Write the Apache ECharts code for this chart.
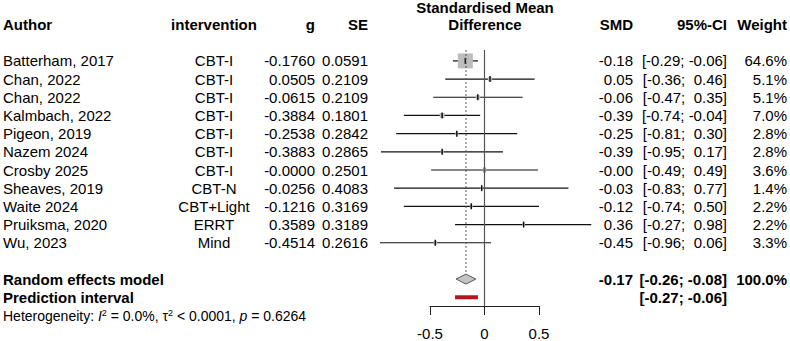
<!DOCTYPE html>
<html>
<head>
<meta charset="utf-8">
<script src="https://cdn.jsdelivr.net/npm/echarts@6/dist/echarts.min.js"></script>
<style>
  html, body { margin: 0; padding: 0; background: #fff; }
  #chart { width: 790px; height: 341px; }
</style>
</head>
<body>
<div id="chart"></div>
<script>
// study data
const authors = ['Batterham, 2017', 'Chan, 2022', 'Chan, 2022', 'Kalmbach, 2022', 'Pigeon, 2019',
  'Nazem 2024', 'Crosby 2025', 'Sheaves, 2019', 'Waite 2024', 'Pruiksma, 2020', 'Wu, 2023'];
const interventions = ['CBT-I', 'CBT-I', 'CBT-I', 'CBT-I', 'CBT-I', 'CBT-I', 'CBT-I',
  'CBT-N', 'CBT+Light', 'ERRT', 'Mind'];
const gValues = [-0.1760, 0.0505, -0.0615, -0.3884, -0.2538, -0.3883, -0.00004, -0.0256, -0.1216, 0.3589, -0.4514];
const seValues = [0.0591, 0.2109, 0.2109, 0.1801, 0.2842, 0.2865, 0.2501, 0.4083, 0.3169, 0.3189, 0.2616];
const ciLower = [-0.29, -0.36, -0.47, -0.74, -0.81, -0.95, -0.49, -0.83, -0.74, -0.27, -0.96];
const ciUpper = [-0.06, 0.46, 0.35, -0.04, 0.30, 0.17, 0.49, 0.77, 0.50, 0.98, 0.06];
const weights = [64.6, 5.1, 5.1, 7.0, 2.8, 2.8, 3.6, 1.4, 2.2, 2.2, 3.3];

// pooled result
const pooled = { est: -0.17, lo: -0.26, hi: -0.08, weight: 100.0 };
const predInterval = { lo: -0.27, hi: -0.06 };
const heterogeneity = { i2: '0.0%', tau2: '< 0.0001', p: '0.6264' };

const xTicks = [-0.5, 0, 0.5];

// layout
const FONT = '"Liberation Sans", Arial, sans-serif';
const FS = 15;
const TXT = '#000';
const ROW_TOP = -0.6;     // top of reference lines (in row units)
const ROW_POOLED = 12;
const ROW_PRED = 13;
const ROW_HET = 14.05;
const ROW_HEAD = -2;
const ROW_TITLE = -2.95;

const col = {
  author: 3, interv: 214, g: 315, se: 368, plot: 485, smd: 633, ci: 727, weight: 787
};

function f2(v) { return v.toFixed(2); }
function ciText(lo, hi) {
  return '[' + f2(lo) + '; ' + (hi >= 0 ? ' ' : '') + f2(hi) + ']';
}

function txt(x, y, text, align, bold, size) {
  return {
    type: 'text', x: x, y: y, silent: true,
    style: {
      text: text, fill: TXT, fontFamily: FONT, fontSize: size || FS,
      fontWeight: bold ? 'bold' : 'normal', align: align, verticalAlign: 'middle'
    }
  };
}

const chart = echarts.init(document.getElementById('chart'), null, { renderer: 'svg' });

const maxW = Math.max.apply(null, weights);

chart.setOption({
  animation: false,
  backgroundColor: '#fff',
  grid: { left: 430, right: 251, top: 50, bottom: 35 },
  xAxis: {
    type: 'value', min: -0.5, max: 0.5, interval: 0.5,
    splitLine: { show: false },
    axisLine: { show: true, onZero: false, lineStyle: { color: '#222', width: 1 } },
    axisTick: { show: true, length: 9, lineStyle: { color: '#222', width: 1 } },
    axisLabel: {
      color: TXT, fontFamily: FONT, fontSize: FS, margin: 20,
      formatter: function (v) { return xTicks.indexOf(v) >= 0 ? String(v) : ''; }
    }
  },
  yAxis: { type: 'value', min: ROW_TOP, max: 13.48, inverse: true, show: false },
  series: [
    {
      // confidence intervals + weight squares
      type: 'custom', name: 'studies',
      data: gValues.map((g, i) => [g, i, ciLower[i], ciUpper[i], weights[i]]),
      renderItem: function (params, api) {
        const p = api.coord([api.value(0), api.value(1)]);
        const a = api.coord([api.value(2), api.value(1)]);
        const b = api.coord([api.value(3), api.value(1)]);
        const s = 15 * Math.sqrt(api.value(4) / maxW);
        return {
          type: 'group',
          children: [
            { type: 'line', shape: { x1: a[0], y1: a[1], x2: b[0], y2: b[1] },
              style: { stroke: '#111', lineWidth: 1.2 } },
            { type: 'rect', shape: { x: p[0] - s / 2, y: p[1] - s / 2, width: s, height: s },
              style: { fill: '#bdbdbd' } },
            { type: 'line', shape: { x1: p[0], y1: p[1] - 3, x2: p[0], y2: p[1] + 3 },
              style: { stroke: '#111', lineWidth: 1.5 } }
          ]
        };
      },
      markLine: {
        silent: true, symbol: ['none', 'none'], label: { show: false },
        lineStyle: { color: '#555', type: 'solid', width: 1.2 },
        data: [{ xAxis: 0 }]
      }
    },
    {
      // pooled diamond + dotted line
      type: 'custom', name: 'pooled',
      data: [[pooled.est, ROW_POOLED, pooled.lo, pooled.hi]],
      renderItem: function (params, api) {
        const c = api.coord([api.value(0), api.value(1)]);
        const l = api.coord([api.value(2), api.value(1)]);
        const r = api.coord([api.value(3), api.value(1)]);
        const top = api.coord([api.value(0), ROW_TOP]);
        const h = 5;
        return {
          type: 'group',
          children: [
            { type: 'line', shape: { x1: c[0], y1: top[1], x2: c[0], y2: c[1] - h },
              style: { stroke: '#555', lineWidth: 1, lineDash: [2, 2] } },
            { type: 'polygon',
              shape: { points: [[l[0], l[1]], [c[0], c[1] - h], [r[0], r[1]], [c[0], c[1] + h]] },
              style: { fill: '#c4c4c4', stroke: '#555', lineWidth: 1 } }
          ]
        };
      }
    },
    {
      // prediction interval
      type: 'custom', name: 'prediction',
      data: [[predInterval.lo, predInterval.hi, ROW_PRED]],
      renderItem: function (params, api) {
        const a = api.coord([api.value(0), api.value(2)]);
        const b = api.coord([api.value(1), api.value(2)]);
        return { type: 'rect', shape: { x: a[0], y: a[1] - 2, width: b[0] - a[0], height: 4 },
          style: { fill: '#b5121b' } };
      }
    },
    {
      // study table text
      type: 'custom', name: 'table',
      data: authors.map((a, i) => [0, i]),
      renderItem: function (params, api) {
        const i = params.dataIndex;
        const y = api.coord([0, i])[1];
        return {
          type: 'group',
          children: [
            txt(col.author, y, authors[i], 'left'),
            txt(col.interv, y, interventions[i], 'center'),
            txt(col.g, y, gValues[i].toFixed(4), 'right'),
            txt(col.se, y, seValues[i].toFixed(4), 'right'),
            txt(col.smd, y, f2(gValues[i]), 'right'),
            txt(col.ci, y, ciText(ciLower[i], ciUpper[i]), 'right'),
            txt(col.weight, y, weights[i].toFixed(1) + '%', 'right')
          ]
        };
      }
    },
    {
      // headers, summary rows, heterogeneity
      type: 'custom', name: 'labels',
      data: [[0, 0]],
      renderItem: function (params, api) {
        const yh = api.coord([0, ROW_HEAD])[1];
        const yt = api.coord([0, ROW_TITLE])[1];
        const yp = api.coord([0, ROW_POOLED])[1];
        const yq = api.coord([0, ROW_PRED])[1];
        const yz = api.coord([0, ROW_HET])[1];
        return {
          type: 'group',
          children: [
            txt(col.author, yh, 'Author', 'left', true),
            txt(col.interv, yh, 'intervention', 'center', true),
            txt(col.g, yh, 'g', 'right', true),
            txt(col.se, yh, 'SE', 'right', true),
            txt(col.plot, yt, 'Standardised Mean', 'center', true),
            txt(col.plot, yh, 'Difference', 'center', true),
            txt(col.smd, yh, 'SMD', 'right', true),
            txt(col.ci, yh, '95%-CI', 'right', true),
            txt(col.weight, yh, 'Weight', 'right', true),
            txt(col.author, yp, 'Random effects model', 'left', true),
            txt(col.author, yq, 'Prediction interval', 'left', true),
            txt(col.smd, yp, f2(pooled.est), 'right', true),
            txt(col.ci, yp, ciText(pooled.lo, pooled.hi), 'right', true),
            txt(col.weight, yp, pooled.weight.toFixed(1) + '%', 'right', true),
            txt(col.ci, yq, ciText(predInterval.lo, predInterval.hi), 'right', true),
            {
              type: 'text', x: col.author, y: yz, silent: true,
              style: {
                text: 'Heterogeneity: {i|I}{s|2} = ' + heterogeneity.i2 + ', τ{s|2} ' + heterogeneity.tau2 +
                  ', {i|p} = ' + heterogeneity.p,
                fill: TXT, fontFamily: FONT, fontSize: 14, align: 'left', verticalAlign: 'middle',
                rich: {
                  i: { fontStyle: 'italic', fontFamily: FONT, fontSize: 14, fill: TXT },
                  s: { fontSize: 9, fontFamily: FONT, fill: TXT, verticalAlign: 'top', lineHeight: 16 }
                }
              }
            }
          ]
        };
      }
    }
  ]
});
</script>
</body>
</html>
